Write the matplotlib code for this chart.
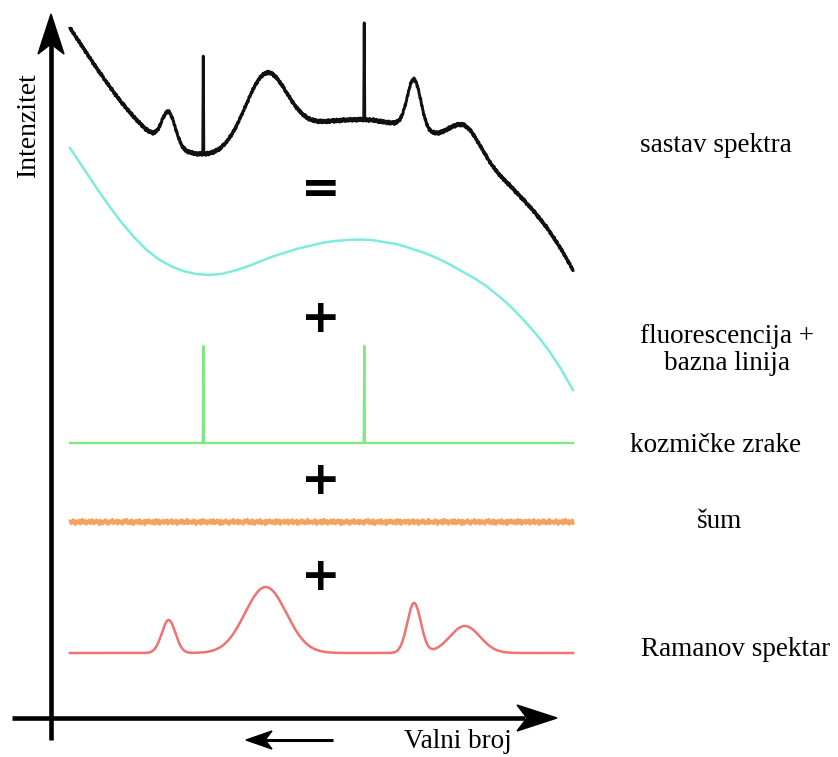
import numpy as np
import matplotlib.pyplot as plt
from matplotlib.patches import Polygon

# valni broj (0-100, proizvoljne jedinice)
x_fluo = np.linspace(0, 100, 41)
# fluorescencija + bazna linija, ocitano sa slike
fluo = [242, 223, 204, 186, 169, 154, 141, 131, 124, 119, 116, 115, 116, 119, 123, 128,
        133, 137, 141, 144, 147, 149, 150, 150.5, 150, 148, 146, 142, 138, 133, 127, 120,
        113, 105, 95, 84, 71, 57, 41, 22, 0]

# Ramanovi pikovi
peak_pos = [19.6, 38.9, 68.4, 78.5]
peak_height = [33, 66, 50, 27]
peak_width = [1.35, 4.1, 1.35, 3.0]

# kozmicke zrake
spike_pos = [26.5, 58.5]
spike_height = [97, 97]

# sum
noise = [0.8, -1.2, 0.5, 1.6, -0.4, -1.8, 0.9, 0.2, -0.7, 1.3, -1.5, 0.4, 1.9, -0.9, -0.2, 1.1, -1.6, 0.6, -0.3, 1.4,
         -1.1, 0.7, 1.7, -1.3, 0.1, -0.8, 1.5, -0.5, 0.9, -1.9, 1.2, 0.3, -1.4, 0.8, -0.1, 1.6, -1.0, 0.5, -1.7, 1.0,
         0.2, -0.6, 1.8, -1.2, 0.4, -0.3, 1.3, -1.5, 0.7, 1.1, -0.9, 0.0, -1.6, 1.4, -0.4, 0.6, 1.9, -1.1, -0.7, 0.9,
         -1.3, 1.5, 0.3, -1.8, 0.8, -0.2, 1.2, -1.0, 0.5, 1.7, -1.4, 0.1, -0.6, 1.0, -1.9, 1.3, 0.4, -0.8, 1.6, -0.5,
         0.7, -1.2, 1.1, -0.3, -1.5, 1.8, 0.2, -0.9, 1.4, -1.7, 0.6, -0.1, 1.2, -1.1, 0.9, -0.4, 1.5, -1.6, 0.3, 1.0,
         -0.7, 1.7, -1.3, 0.5, -0.2, 1.3, -1.8, 0.8, 0.1, -1.0, 1.6, -0.6, 1.1, -1.4, 0.4, -0.8, 1.9, -1.2, 0.7, -0.3]

labels = ["sastav spektra", "fluorescencija +\nbazna linija", "kozmičke zrake", "šum", "Ramanov spektar"]

# komponente na finoj mrezi
x = np.arange(0, 100.001, 0.1)
raman = np.zeros_like(x)
for p, h, w in zip(peak_pos, peak_height, peak_width):
    raman += h * np.exp(-(x - p) ** 2 / (2 * w ** 2))
spikes = np.zeros_like(x)
for p, h in zip(spike_pos, spike_height):
    spikes[np.argmin(np.abs(x - p))] = h
fluo_fine = np.interp(x, x_fluo, fluo)
# sitni sum: lista se ponavlja duz mreze (svaka 2 tocke ~ 1 px)
noise_fine = np.repeat(np.resize(noise, len(x) // 2 + 1), 2)[:len(x)]
noise_dark = np.resize(noise[::-1], len(x))
total = fluo_fine + raman + spikes + 0.9 * noise_dark

plt.rcParams['font.family'] = ['Liberation Serif', 'DejaVu Serif']

fig = plt.figure(figsize=(8.38, 7.57), dpi=100)
ax = fig.add_axes([0, 0, 1, 1])
ax.set_xlim(-70 / 5.03, (838 - 70) / 5.03)
ax.set_ylim(0, 757)
ax.axis("off")

# vertikalni pomaci
ax.plot(x, total + 487, color="#111111", lw=2.1)
ax.plot(x, fluo_fine + 367, color="#7EEBDD", lw=1.8)
ax.plot(x, spikes + 314, color="#7FE87F", lw=1.7)
ax.plot(x, 1.4 * noise_fine + 235, color="#F4A25E", lw=2.0)
ax.plot(x, raman + 104, color="#F07272", lw=1.8)

# dekoracije u pikselima
deco = fig.add_axes([0, 0, 1, 1])
deco.set_xlim(0, 838)
deco.set_ylim(757, 0)
deco.axis("off")
deco.patch.set_alpha(0)

deco.plot([51, 51], [740, 40], color="black", lw=3.3, solid_capstyle="butt")
deco.add_patch(Polygon([[51, 14], [64, 54], [51, 44], [38, 54]], closed=True, color="black"))
deco.plot([12, 525], [718, 718], color="black", lw=3.3, solid_capstyle="butt")
deco.add_patch(Polygon([[557, 718], [517, 731], [527, 718], [517, 705]], closed=True, color="black"))
deco.plot([333, 265], [740, 740], color="black", lw=2.2, solid_capstyle="butt")
deco.add_patch(Polygon([[246, 740], [272, 731], [265, 740], [272, 749]], closed=True, color="black"))

deco.text(28, 125, "Intenzitet", rotation=90, ha="center", va="center", fontsize=20)
deco.text(458, 742, "Valni broj", ha="center", va="center", fontsize=19.5)

label_y = [145, 350, 445, 521, 650]
label_x = [716, 727, 716, 719, 736]
for lx, ly, t in zip(label_x, label_y, labels):
    deco.text(lx, ly, t, ha="center", va="center", fontsize=19.5, linespacing=1.15)

for sy, s in zip([190, 320, 482, 577], ["=", "+", "+", "+"]):
    deco.text(321, sy, s, ha="center", va="center", fontsize=34, fontweight="bold",
              family="DejaVu Sans")

fig.savefig("out.png", dpi=100)
